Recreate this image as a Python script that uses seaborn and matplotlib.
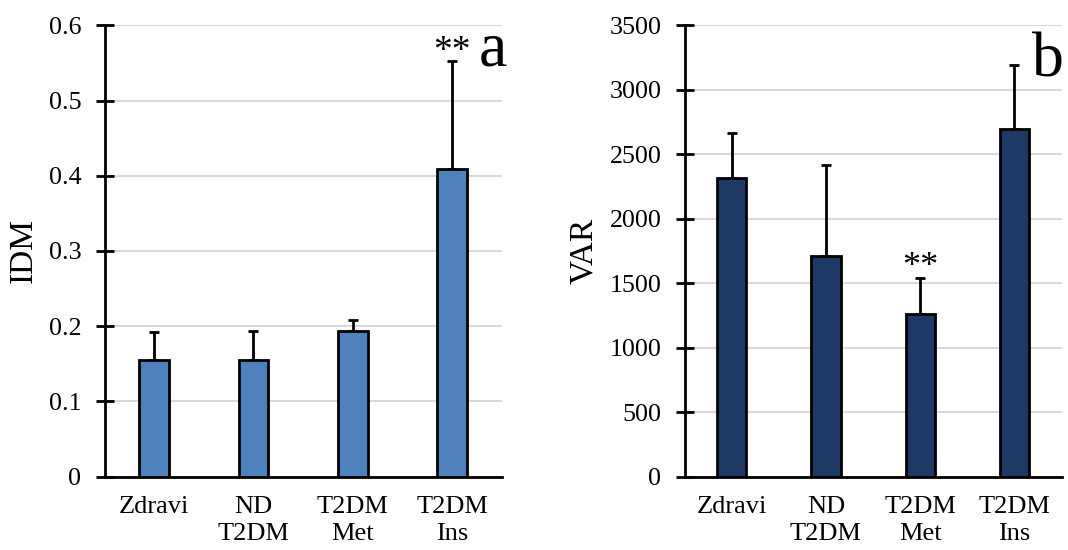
import matplotlib
matplotlib.use("Agg")
import matplotlib.pyplot as plt
import seaborn as sns
import pandas as pd
import numpy as np
from matplotlib.ticker import FixedLocator

categories = ["Zdravi", "ND\nT2DM", "T2DM\nMet", "T2DM\nIns"]
idm_values = [0.155, 0.155, 0.194, 0.409]
idm_errors = [0.037, 0.039, 0.014, 0.144]
var_values = [2316, 1714, 1257, 2697]
var_errors = [351, 700, 286, 498]
idm_ticks = [0, 0.1, 0.2, 0.3, 0.4, 0.5, 0.6]
idm_ticklabels = ["0", "0.1", "0.2", "0.3", "0.4", "0.5", "0.6"]
var_ticks = [0, 500, 1000, 1500, 2000, 2500, 3000, 3500]
var_ticklabels = [str(t) for t in var_ticks]

sns.set_theme(style="white")
plt.rcParams['font.family'] = ['Liberation Serif', 'DejaVu Serif']
for k in ["text.color", "axes.labelcolor", "xtick.color", "ytick.color"]:
    plt.rcParams[k] = "black"

fig = plt.figure(figsize=(10.68, 5.5), dpi=100)
ax1 = fig.add_axes([104.5/1068, 73.5/550, 397.2/1068, 451.2/550])
ax2 = fig.add_axes([684.6/1068, 73.5/550, 377/1068, 451.2/550])


def panel(ax, vals, errs, color, ylabel, ticks, ticklabels, ymax, width):
    df = pd.DataFrame({"cat": categories, "val": vals})
    sns.barplot(data=df, x="cat", y="val", ax=ax, color=color, width=width,
                edgecolor="black", linewidth=2, saturation=1, errorbar=None, zorder=3)
    ax.errorbar(np.arange(len(vals)), vals, yerr=[np.zeros(len(errs)), errs],
                fmt="none", ecolor="black", elinewidth=2, capsize=3.8, capthick=2, zorder=2)
    ax.set_xlim(-0.5, len(vals) - 0.5)
    ax.set_ylim(0, ymax)
    ax.set_yticks(ticks)
    ax.set_yticklabels(ticklabels, fontsize=18.7)
    ax.yaxis.grid(True, color="#d9d9d9", linewidth=1.5, zorder=0)
    ax.set_axisbelow(True)
    ax.xaxis.set_major_locator(FixedLocator(np.arange(-0.5, len(vals), 1.0)))
    ax.xaxis.set_minor_locator(FixedLocator(np.arange(len(vals))))
    ax.set_xticklabels([], minor=False)
    ax.set_xticklabels(categories, minor=True, fontsize=19)
    for lab in ax.get_xticklabels(minor=True):
        lab.set_linespacing(1.3)
    ax.tick_params(axis="x", which="major", direction="inout", length=12.5, width=2, color="black")
    ax.tick_params(axis="x", which="minor", length=0, pad=14)
    ax.tick_params(axis="y", direction="inout", length=12.5, width=2, color="black", pad=10.5, left=True)
    ax.set_xlabel("")
    ax.set_ylabel(ylabel, fontsize=24, labelpad=7)
    for s in ["top", "right"]:
        ax.spines[s].set_visible(False)
    for s in ["left", "bottom"]:
        ax.spines[s].set_color("black")
        ax.spines[s].set_linewidth(2)


panel(ax1, idm_values, idm_errors, "#4f81bd", "IDM", idm_ticks, idm_ticklabels, 0.6, 0.30)
panel(ax2, var_values, var_errors, "#1c3a63", "VAR", var_ticks, var_ticklabels, 3500, 0.31)

ax1.text(3, idm_values[3] + idm_errors[3], "**", ha="center", va="baseline", fontsize=27)
ax1.text(3.41, 0.546, "a", ha="center", va="baseline", fontsize=46)
ax2.text(2, var_values[2] + var_errors[2] + 15, "**", ha="center", va="baseline", fontsize=26)
ax2.text(3.36, 3101, "b", ha="center", va="baseline", fontsize=46, clip_on=False)

fig.savefig("out.png", dpi=100)
